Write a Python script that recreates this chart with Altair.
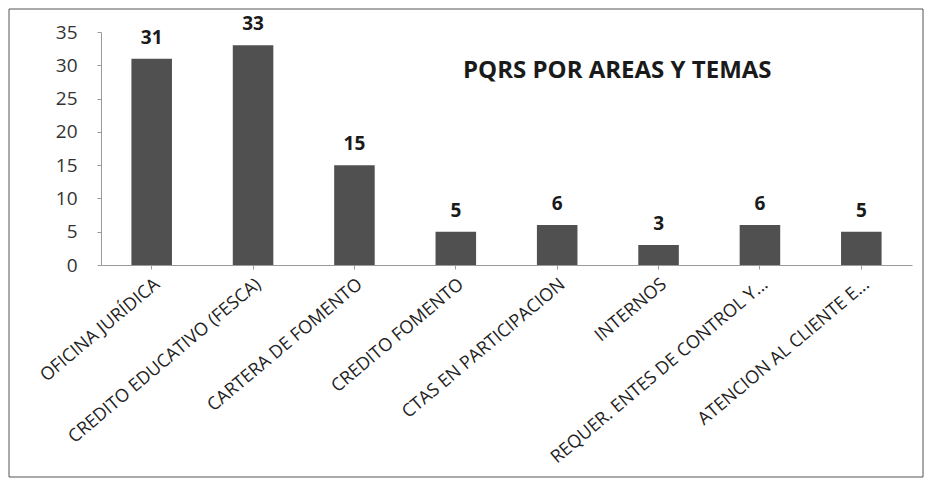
import altair as alt
import pandas as pd

categories = [
    "OFICINA JURÍDICA",
    "CREDITO EDUCATIVO (FESCA)",
    "CARTERA DE FOMENTO",
    "CREDITO FOMENTO",
    "CTAS EN PARTICIPACION",
    "INTERNOS",
    "REQUER. ENTES DE CONTROL Y...",
    "ATENCION AL CLIENTE E...",
]
values = [31, 33, 15, 5, 6, 3, 6, 5]
y_ticks = [0, 5, 10, 15, 20, 25, 30, 35]
title_text = "PQRS POR AREAS Y TEMAS"

df = pd.DataFrame({"area": categories, "pqrs": values})

FONT = "Open Sans"

x_enc = alt.X(
    "area:N",
    sort=categories,
    title=None,
    scale=alt.Scale(paddingInner=0.6, paddingOuter=0.3),
    axis=alt.Axis(
        labelAngle=-40,
        labelFont=FONT,
        labelFontSize=18,
        labelColor="#222222",
        labelPadding=6,
        labelLimit=400,
        labelOverlap=False,
        domainColor="#9a9a9a",
        tickColor="#9a9a9a",
        tickSize=4,
    ),
)
y_enc = alt.Y(
    "pqrs:Q",
    title=None,
    scale=alt.Scale(domain=[0, 35], nice=False),
    axis=alt.Axis(
        values=y_ticks,
        grid=False,
        labelOverlap=False,
        labelFont=FONT,
        labelFontSize=19,
        labelColor="#333333",
        labelPadding=20,
        domainColor="#9a9a9a",
        tickColor="#9a9a9a",
        tickSize=4,
    ),
)

bars = alt.Chart(df).mark_bar(color="#505050").encode(x=x_enc, y=y_enc)

labels = alt.Chart(df).mark_text(
    font=FONT, fontSize=19, fontWeight="bold", color="#1a1a1a", dy=-11, baseline="bottom"
).encode(x=x_enc, y=y_enc, text="pqrs:Q")

title = alt.Chart(pd.DataFrame({"t": [title_text]})).mark_text(
    font=FONT, fontSize=24, fontWeight="bold", color="#1a1a1a", align="left", baseline="middle"
).encode(x=alt.value(362), y=alt.value(39), text="t:N")

border = alt.Chart(pd.DataFrame({"b": [0]})).mark_rect(
    fill="transparent", stroke="#555555", strokeWidth=1
).encode(x=alt.value(-92), x2=alt.value(822), y=alt.value(-23), y2=alt.value(445))

chart = (
    alt.layer(border, bars, labels, title)
    .properties(
        width=811,
        height=233,
        background="white",
        autosize=alt.AutoSizeParams(type="none"),
        padding={"left": 93, "top": 24, "right": 12, "bottom": 214},
    )
    .configure_view(strokeWidth=0, stroke="transparent")
)

chart.save("out.html", embed_options={"renderer": "svg", "actions": False})
